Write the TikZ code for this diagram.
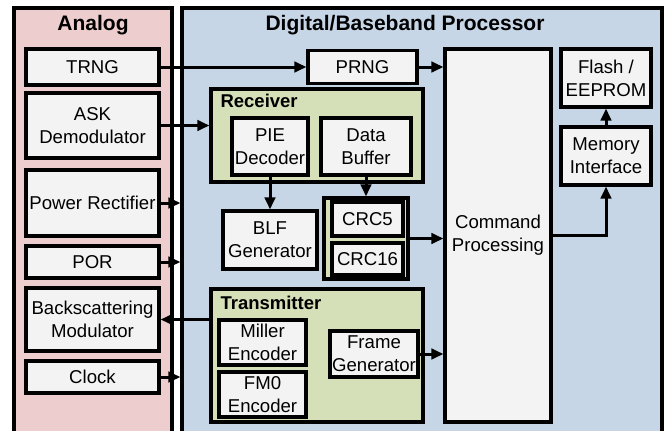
\documentclass[tikz,border=0pt]{standalone}
\usepackage{fontspec}
\setmainfont{Liberation Sans}
\usetikzlibrary{arrows.meta}
\definecolor{analogbg}{RGB}{237,205,205}
\definecolor{digitalbg}{RGB}{199,214,231}
\definecolor{blockbg}{RGB}{213,224,184}
\definecolor{boxbg}{RGB}{243,243,243}
\tikzset{
  labelfont/.style={font=\fontsize{18.6}{23}\selectfont},
  titlefont/.style={font=\bfseries\fontsize{21}{24}\selectfont},
  subfont/.style={font=\bfseries\fontsize{18.5}{20}\selectfont},
  panel/.style={draw=black, line width=3.2pt, inner sep=0pt},
  blockbox/.style={draw=black, line width=3.2pt, fill=blockbg, inner sep=0pt},
  unit/.style={draw=black, line width=3.2pt, fill=boxbg, inner sep=0pt,
    align=center, labelfont},
  sig/.style={line width=3pt, -{Triangle[length=12pt,width=10.5pt]}},
}
\begin{document}
\begin{tikzpicture}[x=1pt,y=-1pt]
\useasboundingbox (0,0) rectangle (667,431);
\clip (0,0) rectangle (667,431);
\fill[white] (0,0) rectangle (667,431);

% panels (they run past the lower edge)
\node[panel, fill=analogbg, minimum width=158pt, minimum height=436pt] (ana) at (93,226) {};
\node[panel, fill=digitalbg, minimum width=480pt, minimum height=436pt] (dig) at (422,226) {};
\node[titlefont] (anatitle) at (93,25) {Analog};
\node[titlefont] (digtitle) at (405,25) {Digital/Baseband Processor};

% analog blocks
\node[unit, minimum width=133pt, minimum height=36pt] (trng) at (92.5,67) {TRNG};
\node[unit, minimum width=133pt, minimum height=65pt] (ask) at (92.5,125.5) {ASK\\Demodulator};
\node[unit, minimum width=133pt, minimum height=66pt] (pwr) at (92.5,203) {Power Rectifier};
\node[unit, minimum width=133pt, minimum height=32pt] (por) at (92.5,262) {POR};
\node[unit, minimum width=133pt, minimum height=63pt] (bsm) at (92.5,319.5) {Backscattering\\Modulator};
\node[unit, minimum width=133pt, minimum height=32pt] (clk) at (92.5,377) {Clock};

% receiver block
\node[blockbox, minimum width=212pt, minimum height=93pt] (rx) at (317,135.5) {};
\node[subfont, anchor=base west] (rxtitle) at (217,107.5) {Receiver};
\node[unit, minimum width=76pt, minimum height=57pt] (pie) at (270,146.5) {PIE\\Decoder};
\node[unit, minimum width=90pt, minimum height=57pt] (buf) at (366,146.5) {Data\\Buffer};

% BLF and CRC
\node[unit, minimum width=94pt, minimum height=58pt] (blf) at (270,240) {BLF\\Generator};
\node[blockbox, minimum width=84pt, minimum height=81pt] (crc) at (366,238.5) {};
\node[unit, minimum width=71pt, minimum height=34pt] (crc5) at (367.5,219) {CRC5};
\node[unit, minimum width=71pt, minimum height=32pt] (crc16) at (367.5,259) {CRC16};

% transmitter block
\node[blockbox, minimum width=212pt, minimum height=133pt] (tx) at (317,355.5) {};
\node[subfont, anchor=base west] (txtitle) at (217,309) {Transmitter};
\node[unit, minimum width=87pt, minimum height=45pt] (mil) at (262.5,342.5) {Miller\\Encoder};
\node[unit, minimum width=87pt, minimum height=45pt] (fm0) at (262.5,394.5) {FM0\\Encoder};
\node[unit, minimum width=88pt, minimum height=46pt] (frm) at (374,354) {Frame\\Generator};

% top row and command path
\node[unit, minimum width=109pt, minimum height=33pt] (prng) at (362.5,67) {PRNG};
\node[unit, minimum width=106pt, minimum height=373pt] (cmd) at (498,235.5) {Command\\Processing};
\node[unit, minimum width=90pt, minimum height=58pt] (flash) at (606,78) {Flash /\\EEPROM};
\node[unit, minimum width=90pt, minimum height=58pt] (mem) at (606,156) {Memory\\Interface};

% signals
\draw[sig] (trng.east) -- (prng.west);
\draw[sig] (prng.east) -- (prng.east -| cmd.west);
\draw[sig] (ask.east) -- (ask.east -| rx.west);
\draw[sig] (pwr.east) -- (pwr.east -| dig.west);
\draw[sig] (por.east) -- (por.east -| dig.west);
\draw[sig] (bsm.east -| tx.west) -- (bsm.east);
\draw[sig] (clk.east) -- (clk.east -| dig.west);
\draw[sig] (pie.south) -- (blf.north);
\draw[sig] (buf.south) -- (crc.north);
\draw[sig] (crc.east) -- (crc.east -| cmd.west);
\draw[sig] (frm.east) -- (frm.east -| cmd.west);
\draw[sig] (cmd.east) -| (mem.south);
\draw[sig] (mem.north) -- (flash.south);
\end{tikzpicture}
\end{document}
